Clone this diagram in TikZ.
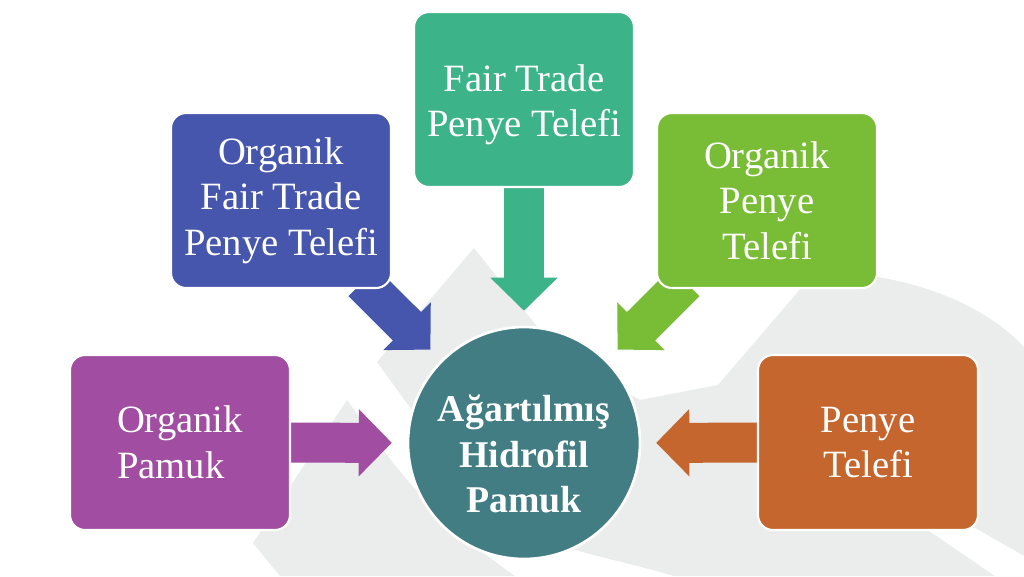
\documentclass[tikz,border=0pt]{standalone}
\usepackage{fontspec}
\setmainfont{Liberation Serif}
\usetikzlibrary{arrows.meta, positioning}

\definecolor{boxblue}{RGB}{70,86,172}
\definecolor{boxteal}{RGB}{61,179,138}
\definecolor{boxgreen}{RGB}{121,188,54}
\definecolor{boxpurple}{RGB}{160,77,162}
\definecolor{boxorange}{RGB}{197,102,47}
\definecolor{hubteal}{RGB}{66,125,131}
\definecolor{markgray}{RGB}{235,236,236}

\pgfdeclarelayer{back}
\pgfdeclarelayer{mid}
\pgfsetlayers{back,mid,main}

\tikzset{
    box/.style={rectangle, rounded corners=0.3cm, draw=white, line width=1.2pt,
        minimum width=4.4cm, minimum height=3.5cm, text=white, align=center,
        font=\fontsize{22}{26}\selectfont},
    hub/.style={circle, draw=white, line width=1.5pt, fill=hubteal,
        minimum size=4.64cm, inner sep=0pt, text=white, align=center,
        font=\fontsize{21.5}{26}\selectfont\bfseries},
    flow/.style={line width=0.8cm, shorten >=0.3cm, shorten <=-0.2cm,
        -{Triangle[length=0.66cm, width=1.34cm, line width=1pt]}}
}

\begin{document}
\begin{tikzpicture}[x=0.02cm, y=-0.02cm]
    \useasboundingbox (0,0) rectangle (1024,576);

    % watermark behind the diagram
    \begin{pgfonlayer}{back}
        \fill[white] (0,0) rectangle (1024,576);
        \fill[markgray] (474,248) -- (560,355) -- (640,400) -- (718,385) -- (815,272)
            .. controls (910,272) and (985,305) .. (1024,347) -- (1024,576) -- (674,576)
            .. controls (620,560) and (560,550) .. (520,530)
            .. controls (470,500) and (440,460) .. (417,417) -- (377,362) -- cycle;
        \fill[markgray] (347,400) -- (253,543) -- (280,576) -- (515,576)
            .. controls (470,545) and (425,505) .. (387,455) -- cycle;
        \fill[white] (925,528) -- (995,576) -- (1024,576) -- (1024,556) -- (975,528) -- cycle;
    \end{pgfonlayer}

    \node[hub, text height=2.8cm] (hub) at (524,443) {Ağartılmış\\Hidrofil\\Pamuk};
    \node[box, fill=boxteal, text height=1.66cm] (fairtrade) at (524,99.5) {Fair Trade\\Penye Telefi};
    \node[box, fill=boxblue] (orgfair) at (281,200.5) {Organik\\Fair Trade\\Penye Telefi};
    \node[box, fill=boxgreen] (orgpenye) at (767,200.5) {Organik\\Penye\\Telefi};
    \node[box, fill=boxpurple, align=left] (orgpamuk) at (180,442.5) {Organik\\Pamuk};
    \node[box, fill=boxorange] (penye) at (868,442.5) {Penye\\Telefi};

    % block arrows into the hub
    \begin{pgfonlayer}{mid}
        \draw[flow, boxteal] (fairtrade) -- (hub);
        \draw[flow, boxblue] (orgfair) -- (hub);
        \draw[flow, boxgreen] (orgpenye) -- (hub);
        \draw[flow, boxpurple] (orgpamuk) -- (hub);
        \draw[flow, boxorange] (penye) -- (hub);
    \end{pgfonlayer}
\end{tikzpicture}
\end{document}
